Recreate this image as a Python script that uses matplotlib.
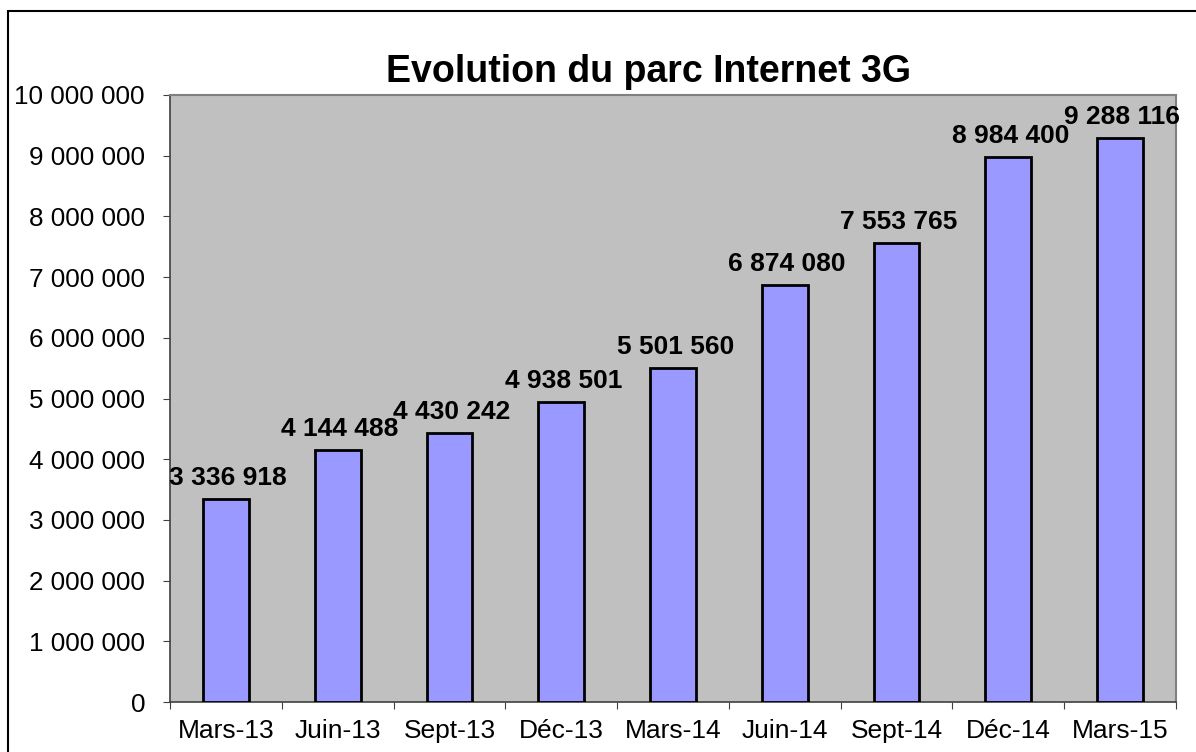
import matplotlib.pyplot as plt
from matplotlib.patches import Rectangle
from matplotlib.ticker import FuncFormatter

plt.rcParams['font.family'] = ['Liberation Sans', 'DejaVu Sans']

periods = ["Mars-13", "Juin-13", "Sept-13", "Déc-13", "Mars-14",
           "Juin-14", "Sept-14", "Déc-14", "Mars-15"]
parc = [3336918, 4144488, 4430242, 4938501, 5501560,
        6874080, 7553765, 8984400, 9288116]


def fmt(v, pos=None):
    return f"{int(v):,}".replace(",", " ")


W, H = 1196, 752
fig = plt.figure(figsize=(W / 100, H / 100), dpi=100)
ax = fig.add_axes([170 / W, 1 - 702 / H, (1176 - 170) / W, (702 - 95) / H])
ax.set_facecolor("#C0C0C0")

x = range(len(periods))
ax.bar(x, parc, width=0.41, color="#9999FF", edgecolor="black", linewidth=2, zorder=3)

for i, v in enumerate(parc):
    ax.text(i + 0.02, v + 150000, fmt(v), ha="center", va="bottom",
            fontsize=19, fontweight="bold")

ax.set_xlim(-0.5, len(periods) - 0.5)
ax.set_ylim(0, 10000000)
ax.set_yticks(range(0, 10000001, 1000000))
ax.yaxis.set_major_formatter(FuncFormatter(fmt))
ax.set_xticks([i + 0.5 for i in range(-1, len(periods))], minor=False)
ax.set_xticklabels([])
ax.set_xticks(list(x), minor=True)
ax.set_xticklabels(periods, minor=True)
ax.tick_params(axis="x", which="minor", length=0, pad=12, labelsize=19)
ax.tick_params(axis="x", which="major", length=5, color="#404040")
ax.tick_params(axis="y", length=5, labelsize=18.7, pad=13, color="#404040")

for s in ["top", "right"]:
    ax.spines[s].set_color("#808080")
    ax.spines[s].set_linewidth(1.5)
for s in ["left", "bottom"]:
    ax.spines[s].set_color("#404040")
    ax.spines[s].set_linewidth(1.2)

fig.text(649 / W, 1 - 72 / H, "Evolution du parc Internet 3G",
         ha="center", va="center", fontsize=27, fontweight="bold")

fig.patches.append(Rectangle((8 / W, -0.1), 1.2, 1 - 11 / H + 0.1,
                             transform=fig.transFigure, fill=False,
                             edgecolor="black", linewidth=1.5))

fig.savefig("out.png", dpi=100)
